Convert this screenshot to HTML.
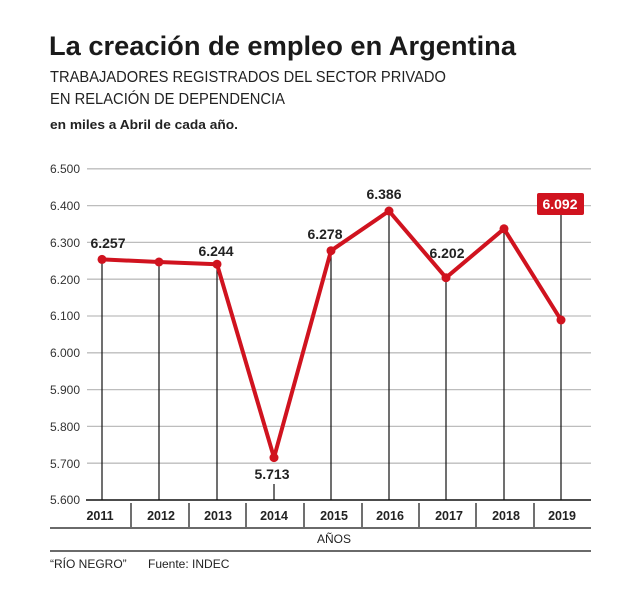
<!DOCTYPE html>
<html><head><meta charset="utf-8"><style>
body{margin:0;background:#fff;width:625px;height:603px;overflow:hidden}
svg{display:block;font-family:"Liberation Sans",sans-serif}
</style></head><body>
<svg width="625" height="603" viewBox="0 0 625 603">
<text x="49" y="55" font-size="27" font-weight="bold" fill="#1a1a1a" textLength="467" lengthAdjust="spacingAndGlyphs">La creación de empleo en Argentina</text>
<text x="50" y="82" font-size="16" fill="#222" textLength="396" lengthAdjust="spacingAndGlyphs">TRABAJADORES REGISTRADOS DEL SECTOR PRIVADO</text>
<text x="50" y="104" font-size="16" fill="#222" textLength="235" lengthAdjust="spacingAndGlyphs">EN RELACIÓN DE DEPENDENCIA</text>
<text x="50" y="129" font-size="13" font-weight="bold" fill="#222" textLength="188" lengthAdjust="spacingAndGlyphs">en miles a Abril de cada año.</text>
<g stroke="#bdbdbd" stroke-width="1.3">
<line x1="87" x2="591" y1="168.8" y2="168.8"/><line x1="87" x2="591" y1="205.6" y2="205.6"/>
<line x1="87" x2="591" y1="242.4" y2="242.4"/><line x1="87" x2="591" y1="279.2" y2="279.2"/>
<line x1="87" x2="591" y1="316" y2="316"/><line x1="87" x2="591" y1="352.8" y2="352.8"/>
<line x1="87" x2="591" y1="389.6" y2="389.6"/><line x1="87" x2="591" y1="426.4" y2="426.4"/>
<line x1="87" x2="591" y1="463.2" y2="463.2"/>
</g>
<g font-size="12" fill="#333" text-anchor="end">
<text x="80" y="173">6.500</text><text x="80" y="210">6.400</text><text x="80" y="247">6.300</text>
<text x="80" y="284">6.200</text><text x="80" y="320">6.100</text><text x="80" y="357">6.000</text>
<text x="80" y="394">5.900</text><text x="80" y="431">5.800</text><text x="80" y="468">5.700</text>
<text x="80" y="504">5.600</text>
</g>
<g stroke="#111" stroke-width="1.2">
<line x1="102" x2="102" y1="259" y2="500"/><line x1="159" x2="159" y1="262" y2="500"/>
<line x1="217" x2="217" y1="264" y2="500"/><line x1="274" x2="274" y1="457" y2="462"/>
<line x1="274" x2="274" y1="484" y2="500"/><line x1="331" x2="331" y1="251" y2="500"/>
<line x1="389" x2="389" y1="211" y2="500"/><line x1="446" x2="446" y1="277" y2="500"/>
<line x1="504" x2="504" y1="229" y2="500"/><line x1="561" x2="561" y1="212" y2="500"/>
<line x1="86" x2="591" y1="500" y2="500" stroke-width="1.5"/>
<line x1="131" x2="131" y1="503" y2="527"/><line x1="189" x2="189" y1="503" y2="527"/>
<line x1="246" x2="246" y1="503" y2="527"/><line x1="304" x2="304" y1="503" y2="527"/>
<line x1="362" x2="362" y1="503" y2="527"/><line x1="419" x2="419" y1="503" y2="527"/>
<line x1="476" x2="476" y1="503" y2="527"/><line x1="534" x2="534" y1="503" y2="527"/>
<line x1="50" x2="591" y1="528" y2="528"/><line x1="50" x2="591" y1="551" y2="551"/>
</g>
<polyline fill="none" stroke="#d0131f" stroke-width="4" stroke-linejoin="round" points="102,259.4 159,262 217,264.2 274,457.6 331,250.7 389,211 446,277.7 504,228.8 561,320"/>
<g fill="#d0131f">
<circle cx="102" cy="259.4" r="4.5"/><circle cx="159" cy="262" r="4.5"/><circle cx="217" cy="264.2" r="4.5"/>
<circle cx="274" cy="457.6" r="4.5"/><circle cx="331" cy="250.7" r="4.5"/><circle cx="389" cy="211" r="4.5"/>
<circle cx="446" cy="277.7" r="4.5"/><circle cx="504" cy="228.8" r="4.5"/><circle cx="561" cy="320" r="4.5"/>
<rect x="537" y="193" width="47" height="22" rx="2"/>
</g>
<g font-size="14" font-weight="bold" fill="#222" text-anchor="middle">
<text x="108" y="248">6.257</text><text x="216" y="256">6.244</text><text x="272" y="479">5.713</text>
<text x="325" y="239">6.278</text><text x="384" y="199">6.386</text><text x="447" y="258">6.202</text>
<text x="560" y="209" fill="#fff">6.092</text>
</g>
<g font-size="12.5" font-weight="bold" fill="#222" text-anchor="middle">
<text x="100" y="520">2011</text><text x="161" y="520">2012</text><text x="218" y="520">2013</text>
<text x="274" y="520">2014</text><text x="334" y="520">2015</text><text x="390" y="520">2016</text>
<text x="449" y="520">2017</text><text x="506" y="520">2018</text><text x="562" y="520">2019</text>
</g>
<text x="334" y="543" font-size="12" fill="#222" text-anchor="middle">AÑOS</text>
<text x="50" y="568" font-size="12" fill="#222">“RÍO NEGRO”</text>
<text x="148" y="568" font-size="12" fill="#222">Fuente: INDEC</text>
</svg>
</body></html>
